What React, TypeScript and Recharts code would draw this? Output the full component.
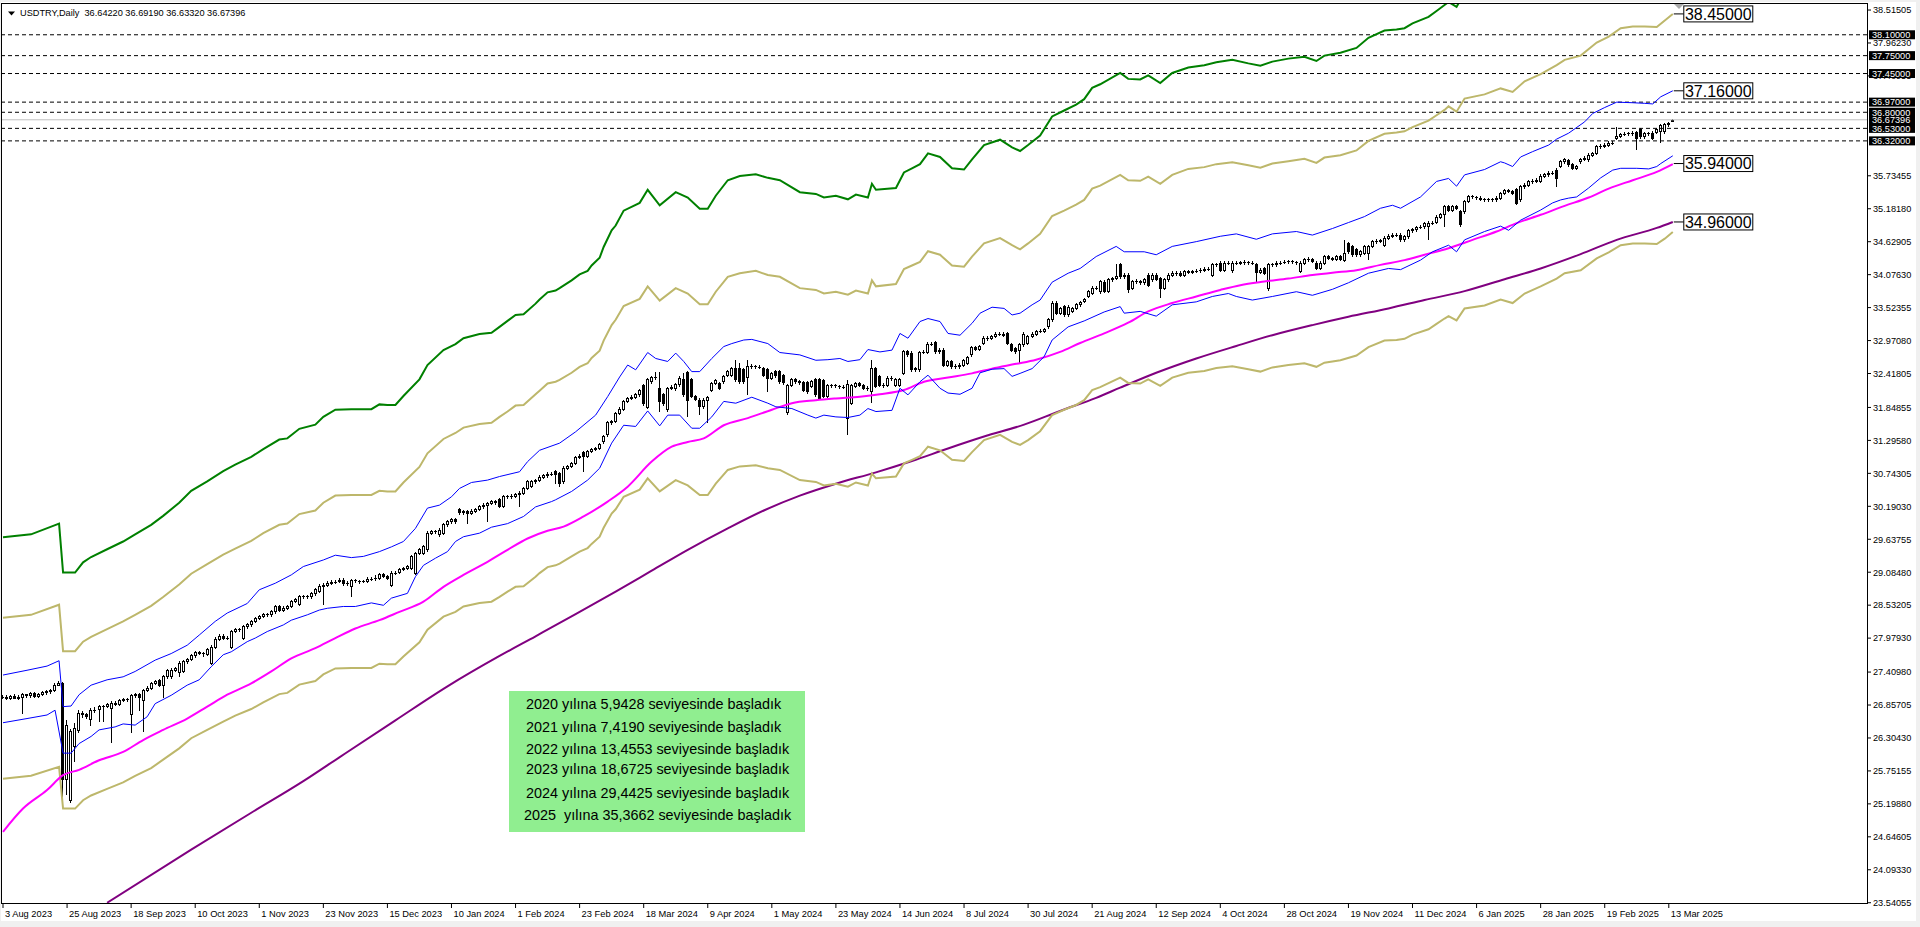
import { ComposedChart, Bar, Line, XAxis, YAxis, ReferenceLine, ReferenceDot } from 'recharts';

// USDTRY daily candles, 3 Aug 2023 .. 14 Mar 2025 (bar index 0..417)
const opens = [
  26.98, 26.99, 26.97, 27.00, 26.97, 26.99, 27.03, 27.01, 27.05, 27.00,
  27.03, 27.06, 27.08, 27.10, 27.19, 27.22, 25.60, 25.26, 26.16, 26.43,
  26.72, 26.69, 26.62, 26.77, 26.78, 26.83, 26.83, 26.80, 26.89, 26.87,
  26.93, 26.95, 26.70, 27.01, 27.03, 26.94, 27.10, 27.14, 27.22, 27.27,
  27.19, 27.33, 27.33, 27.44, 27.40, 27.42, 27.58, 27.62, 27.68, 27.74,
  27.72, 27.71, 27.55, 27.83, 27.96, 28.01, 27.98, 27.83, 28.09, 28.12,
  27.98, 28.17, 28.20, 28.26, 28.31, 28.34, 28.37, 28.37, 28.42, 28.51,
  28.45, 28.48, 28.51, 28.59, 28.55, 28.68, 28.67, 28.67, 28.72, 28.76,
  28.85, 28.87, 28.90, 28.92, 28.93, 28.95, 28.89, 28.84, 28.94, 28.93,
  28.93, 28.93, 28.97, 28.98, 28.98, 29.04, 29.01, 28.87, 29.07, 29.08,
  29.13, 29.15, 29.15, 29.07, 29.40, 29.40, 29.46, 29.74, 29.76, 29.71,
  29.74, 29.88, 29.93, 29.97, 30.14, 30.08, 30.10, 30.07, 30.11, 30.14,
  30.18, 30.21, 30.24, 30.27, 30.30, 30.19, 30.35, 30.35, 30.36, 30.38,
  30.41, 30.49, 30.52, 30.60, 30.62, 30.68, 30.70, 30.73, 30.77, 30.74,
  30.60, 30.83, 30.86, 30.91, 31.01, 31.10, 31.03, 31.11, 31.14, 31.16,
  31.27, 31.39, 31.59, 31.61, 31.75, 31.82, 31.95, 32.00, 32.02, 32.06,
  32.22, 31.85, 32.28, 32.35, 32.17, 32.06, 31.81, 32.17, 32.16, 32.23,
  32.31, 32.43, 32.31, 32.03, 31.97, 31.86, 31.97, 32.13, 32.25, 32.25,
  32.28, 32.39, 32.39, 32.50, 32.50, 32.48, 32.35, 32.53, 32.53, 32.52,
  32.50, 32.48, 32.34, 32.45, 32.45, 32.38, 31.76, 32.22, 32.31, 32.28,
  32.27, 32.26, 32.20, 32.31, 32.31, 32.30, 32.03, 32.21, 32.21, 32.20,
  32.19, 31.67, 31.92, 32.20, 32.25, 32.22, 32.17, 32.11, 32.50, 32.36,
  32.22, 32.22, 32.34, 32.22, 32.22, 32.42, 32.78, 32.76, 32.48, 32.48,
  32.77, 32.77, 32.91, 32.93, 32.78, 32.81, 32.56, 32.62, 32.53, 32.53,
  32.56, 32.59, 32.73, 32.85, 32.82, 32.92, 33.01, 33.01, 33.04, 33.08,
  33.08, 33.09, 32.90, 32.84, 32.81, 32.90, 32.92, 33.04, 33.08, 33.12,
  33.13, 33.20, 33.32, 33.60, 33.43, 33.54, 33.40, 33.46, 33.51, 33.57,
  33.63, 33.71, 33.76, 33.85, 33.79, 33.95, 33.80, 33.99, 34.01, 34.24,
  34.04, 34.07, 33.85, 33.96, 33.96, 33.94, 34.07, 33.99, 34.07, 34.01,
  33.85, 33.99, 34.07, 34.10, 34.10, 34.07, 34.13, 34.11, 34.13, 34.14,
  34.15, 34.17, 34.07, 34.24, 34.27, 34.15, 34.27, 34.14, 34.27, 34.26,
  34.28, 34.28, 34.27, 34.24, 34.11, 34.18, 33.85, 34.24, 34.24, 34.27,
  34.28, 34.29, 34.29, 34.28, 34.13, 34.27, 34.33, 34.33, 34.27, 34.18,
  34.27, 34.38, 34.35, 34.33, 34.38, 34.32, 34.60, 34.55, 34.49, 34.41,
  34.43, 34.43, 34.55, 34.63, 34.63, 34.57, 34.69, 34.72, 34.74, 34.74,
  34.66, 34.71, 34.81, 34.83, 34.87, 34.88, 34.88, 34.94, 34.95, 35.04,
  35.08, 35.22, 35.16, 35.22, 35.13, 35.13, 35.30, 35.38, 35.37, 35.36,
  35.34, 35.33, 35.34, 35.33, 35.36, 35.44, 35.49, 35.47, 35.50, 35.33,
  35.55, 35.58, 35.64, 35.64, 35.64, 35.73, 35.75, 35.78, 35.83, 35.89,
  35.97, 35.99, 35.92, 35.86, 35.97, 36.01, 36.00, 36.08, 36.11, 36.22,
  36.23, 36.25, 36.28, 36.36, 36.40, 36.43, 36.44, 36.44, 36.46, 36.51,
  36.39, 36.44, 36.45, 36.46, 36.47, 36.47, 36.59, 36.64,
];

const highs = [
  27.02, 27.02, 27.03, 27.04, 27.02, 27.06, 27.05, 27.08, 27.07, 27.06,
  27.09, 27.11, 27.13, 27.22, 27.26, 27.25, 26.60, 26.45, 26.55, 26.78,
  26.75, 26.72, 26.80, 26.82, 26.86, 26.86, 26.89, 26.92, 26.92, 26.96,
  26.98, 26.98, 27.04, 27.06, 27.06, 27.13, 27.17, 27.25, 27.28, 27.30,
  27.36, 27.46, 27.47, 27.50, 27.59, 27.61, 27.65, 27.71, 27.77, 27.77,
  27.75, 27.81, 27.86, 27.99, 28.04, 28.04, 28.01, 28.12, 28.15, 28.15,
  28.20, 28.23, 28.29, 28.34, 28.37, 28.40, 28.40, 28.45, 28.54, 28.54,
  28.51, 28.54, 28.62, 28.65, 28.71, 28.71, 28.70, 28.75, 28.82, 28.88,
  28.90, 28.93, 28.95, 28.96, 28.98, 28.98, 28.93, 28.97, 28.97, 28.96,
  28.96, 29.00, 29.01, 29.04, 29.07, 29.07, 29.04, 29.10, 29.11, 29.16,
  29.18, 29.21, 29.38, 29.43, 29.49, 29.54, 29.77, 29.79, 29.80, 29.82,
  29.91, 29.96, 30.00, 30.00, 30.17, 30.13, 30.13, 30.14, 30.17, 30.21,
  30.24, 30.27, 30.30, 30.30, 30.33, 30.38, 30.38, 30.39, 30.41, 30.44,
  30.52, 30.63, 30.63, 30.65, 30.71, 30.73, 30.76, 30.77, 30.80, 30.77,
  30.86, 30.89, 30.94, 31.04, 31.06, 31.12, 31.14, 31.17, 31.19, 31.25,
  31.39, 31.62, 31.64, 31.78, 31.85, 31.98, 32.03, 32.05, 32.09, 32.16,
  32.25, 32.34, 32.38, 32.45, 32.45, 32.09, 32.20, 32.22, 32.26, 32.37,
  32.43, 32.46, 32.34, 32.06, 32.00, 32.00, 32.04, 32.28, 32.33, 32.28,
  32.40, 32.48, 32.53, 32.65, 32.60, 32.51, 32.64, 32.57, 32.56, 32.56,
  32.53, 32.51, 32.45, 32.48, 32.48, 32.41, 32.25, 32.34, 32.34, 32.31,
  32.30, 32.29, 32.31, 32.34, 32.34, 32.33, 32.24, 32.25, 32.24, 32.23,
  32.23, 32.31, 32.24, 32.28, 32.28, 32.25, 32.21, 32.64, 32.53, 32.39,
  32.26, 32.37, 32.38, 32.35, 32.34, 32.81, 32.81, 32.79, 32.53, 32.80,
  32.81, 32.94, 32.95, 32.96, 32.84, 32.84, 32.65, 32.65, 32.57, 32.59,
  32.66, 32.72, 32.88, 32.88, 32.90, 33.04, 33.05, 33.07, 33.11, 33.12,
  33.11, 33.12, 32.93, 32.87, 32.93, 33.11, 33.07, 33.11, 33.15, 33.16,
  33.18, 33.35, 33.63, 33.63, 33.54, 33.57, 33.56, 33.54, 33.60, 33.64,
  33.69, 33.82, 33.88, 33.89, 33.99, 33.98, 34.02, 34.04, 34.25, 34.27,
  34.10, 34.10, 33.99, 34.00, 33.99, 34.02, 34.10, 34.10, 34.10, 34.04,
  34.02, 34.10, 34.13, 34.14, 34.13, 34.16, 34.16, 34.16, 34.17, 34.18,
  34.20, 34.21, 34.27, 34.28, 34.30, 34.30, 34.31, 34.30, 34.30, 34.31,
  34.32, 34.31, 34.30, 34.27, 34.18, 34.21, 34.27, 34.28, 34.30, 34.31,
  34.32, 34.33, 34.32, 34.31, 34.30, 34.36, 34.37, 34.36, 34.30, 34.30,
  34.41, 34.41, 34.38, 34.41, 34.41, 34.66, 34.63, 34.58, 34.52, 34.49,
  34.58, 34.58, 34.66, 34.67, 34.68, 34.72, 34.75, 34.77, 34.78, 34.77,
  34.74, 34.84, 34.86, 34.90, 34.91, 34.96, 34.97, 34.98, 35.07, 35.11,
  35.25, 35.25, 35.25, 35.25, 35.16, 35.33, 35.41, 35.41, 35.40, 35.39,
  35.37, 35.37, 35.37, 35.39, 35.47, 35.52, 35.52, 35.50, 35.53, 35.58,
  35.61, 35.67, 35.68, 35.69, 35.76, 35.78, 35.81, 35.82, 35.86, 36.00,
  36.03, 36.02, 35.95, 35.92, 36.04, 36.06, 36.11, 36.14, 36.25, 36.26,
  36.28, 36.31, 36.32, 36.55, 36.46, 36.47, 36.47, 36.48, 36.49, 36.54,
  36.47, 36.47, 36.48, 36.54, 36.60, 36.62, 36.64, 36.69,
];

const lows = [
  26.95, 26.94, 26.94, 26.95, 26.94, 26.71, 26.98, 26.98, 26.97, 26.98,
  27.00, 27.03, 27.05, 27.08, 27.17, 25.29, 25.35, 25.22, 25.90, 26.38,
  26.64, 26.62, 26.50, 26.73, 26.58, 26.58, 26.80, 26.22, 26.84, 26.84,
  26.90, 26.91, 26.38, 26.98, 26.75, 26.41, 27.07, 27.11, 27.19, 27.16,
  26.97, 27.30, 27.30, 27.41, 27.33, 27.39, 27.55, 27.59, 27.65, 27.69,
  27.66, 27.68, 27.52, 27.80, 27.93, 27.95, 27.94, 27.80, 28.06, 28.08,
  27.95, 28.14, 28.17, 28.23, 28.28, 28.31, 28.33, 28.34, 28.39, 28.42,
  28.42, 28.45, 28.48, 28.56, 28.52, 28.64, 28.63, 28.64, 28.69, 28.73,
  28.53, 28.84, 28.87, 28.89, 28.90, 28.86, 28.86, 28.67, 28.90, 28.89,
  28.90, 28.90, 28.94, 28.93, 28.95, 28.98, 28.95, 28.84, 29.04, 29.05,
  29.10, 29.12, 29.12, 29.04, 29.37, 29.37, 29.43, 29.71, 29.72, 29.68,
  29.71, 29.85, 29.90, 29.90, 30.05, 30.05, 29.90, 30.04, 30.08, 30.11,
  30.15, 29.93, 30.21, 30.22, 30.16, 30.16, 30.32, 30.32, 30.33, 30.18,
  30.38, 30.46, 30.49, 30.57, 30.59, 30.65, 30.67, 30.70, 30.57, 30.52,
  30.57, 30.80, 30.83, 30.88, 30.98, 30.77, 31.00, 31.08, 31.11, 31.13,
  31.24, 31.36, 31.56, 31.58, 31.72, 31.79, 31.92, 31.97, 31.99, 32.03,
  31.88, 31.82, 32.25, 32.31, 31.78, 31.88, 31.78, 32.14, 32.13, 32.20,
  32.03, 31.69, 32.00, 31.96, 31.72, 31.83, 31.59, 32.10, 32.22, 32.14,
  32.25, 32.36, 32.36, 32.28, 32.25, 32.25, 32.06, 32.49, 32.49, 32.49,
  32.36, 32.11, 32.31, 32.35, 32.25, 32.23, 31.73, 32.19, 32.25, 32.23,
  32.10, 32.08, 32.17, 32.03, 31.97, 32.00, 32.00, 32.17, 32.17, 32.16,
  32.16, 31.39, 31.89, 32.17, 32.19, 32.14, 32.13, 31.93, 32.17, 32.19,
  32.18, 32.19, 32.30, 32.19, 32.19, 32.39, 32.70, 32.45, 32.45, 32.45,
  32.74, 32.74, 32.88, 32.75, 32.75, 32.53, 32.53, 32.50, 32.49, 32.50,
  32.53, 32.56, 32.70, 32.79, 32.79, 32.89, 32.97, 32.98, 33.01, 33.04,
  33.03, 32.89, 32.78, 32.75, 32.60, 32.87, 32.89, 33.01, 33.05, 33.09,
  33.10, 33.17, 33.29, 33.40, 33.40, 33.37, 33.37, 33.43, 33.48, 33.54,
  33.60, 33.68, 33.73, 33.82, 33.76, 33.77, 33.77, 33.96, 33.98, 34.01,
  34.01, 33.77, 33.82, 33.92, 33.91, 33.91, 33.87, 33.96, 33.97, 33.68,
  33.82, 33.96, 34.04, 34.06, 34.04, 34.04, 34.08, 34.08, 34.10, 34.11,
  34.12, 34.14, 34.04, 34.20, 34.12, 34.12, 34.23, 34.11, 34.23, 34.23,
  34.24, 34.24, 34.23, 33.96, 34.08, 34.07, 33.80, 34.20, 34.21, 34.24,
  34.25, 34.25, 34.25, 34.24, 34.10, 34.24, 34.29, 34.27, 34.15, 34.15,
  34.24, 34.32, 34.30, 34.30, 34.30, 34.29, 34.43, 34.38, 34.38, 34.38,
  34.40, 34.32, 34.52, 34.59, 34.60, 34.54, 34.66, 34.69, 34.70, 34.63,
  34.63, 34.68, 34.78, 34.80, 34.84, 34.85, 34.66, 34.91, 34.92, 35.01,
  34.87, 35.13, 35.13, 35.16, 34.88, 35.10, 35.27, 35.34, 35.33, 35.31,
  35.30, 35.30, 35.30, 35.30, 35.33, 35.41, 35.44, 35.41, 35.24, 35.30,
  35.52, 35.55, 35.60, 35.61, 35.61, 35.70, 35.72, 35.75, 35.55, 35.86,
  35.94, 35.89, 35.83, 35.83, 35.94, 35.98, 35.97, 36.05, 36.08, 36.19,
  36.20, 36.22, 36.25, 36.33, 36.37, 36.40, 36.41, 36.41, 36.16, 36.36,
  36.36, 36.40, 36.33, 36.43, 36.28, 36.44, 36.56, 36.63,
];

const closes = [
  26.99, 26.97, 27.00, 26.97, 26.99, 27.03, 27.01, 27.05, 27.00, 27.03,
  27.06, 27.08, 27.10, 27.19, 27.22, 25.60, 26.52, 26.41, 26.46, 26.72,
  26.69, 26.66, 26.77, 26.78, 26.83, 26.83, 26.86, 26.89, 26.87, 26.93,
  26.95, 26.94, 27.01, 27.03, 26.99, 27.10, 27.14, 27.22, 27.25, 27.19,
  27.33, 27.43, 27.44, 27.47, 27.56, 27.58, 27.62, 27.68, 27.74, 27.72,
  27.71, 27.78, 27.83, 27.96, 28.01, 27.98, 27.98, 28.09, 28.12, 28.12,
  28.17, 28.20, 28.26, 28.31, 28.34, 28.37, 28.37, 28.42, 28.51, 28.45,
  28.48, 28.51, 28.59, 28.62, 28.68, 28.67, 28.67, 28.72, 28.79, 28.85,
  28.87, 28.90, 28.92, 28.93, 28.95, 28.89, 28.90, 28.94, 28.93, 28.93,
  28.93, 28.97, 28.98, 28.98, 29.04, 29.01, 28.98, 29.07, 29.08, 29.13,
  29.15, 29.18, 29.35, 29.40, 29.46, 29.51, 29.74, 29.76, 29.76, 29.79,
  29.88, 29.93, 29.97, 29.93, 30.08, 30.10, 30.07, 30.11, 30.14, 30.18,
  30.21, 30.24, 30.27, 30.25, 30.19, 30.35, 30.35, 30.36, 30.38, 30.41,
  30.49, 30.60, 30.60, 30.62, 30.68, 30.70, 30.73, 30.74, 30.73, 30.58,
  30.83, 30.86, 30.91, 31.01, 31.03, 31.03, 31.11, 31.14, 31.16, 31.22,
  31.36, 31.59, 31.61, 31.75, 31.82, 31.95, 32.00, 32.02, 32.06, 32.13,
  31.91, 32.31, 32.35, 32.35, 31.95, 31.92, 32.17, 32.19, 32.23, 32.34,
  32.06, 31.97, 32.03, 31.99, 31.86, 31.97, 32.01, 32.25, 32.30, 32.17,
  32.37, 32.45, 32.50, 32.31, 32.28, 32.28, 32.53, 32.53, 32.52, 32.53,
  32.39, 32.34, 32.42, 32.38, 32.28, 32.26, 32.22, 32.31, 32.28, 32.26,
  32.13, 32.11, 32.28, 32.06, 32.00, 32.03, 32.21, 32.21, 32.20, 32.19,
  32.20, 32.23, 32.21, 32.25, 32.22, 32.17, 32.17, 32.50, 32.20, 32.22,
  32.22, 32.34, 32.34, 32.32, 32.31, 32.78, 32.73, 32.48, 32.50, 32.77,
  32.78, 32.91, 32.92, 32.78, 32.81, 32.56, 32.62, 32.53, 32.53, 32.56,
  32.63, 32.69, 32.85, 32.82, 32.87, 33.01, 33.01, 33.04, 33.08, 33.08,
  33.06, 32.92, 32.81, 32.78, 32.90, 33.08, 33.04, 33.08, 33.12, 33.13,
  33.15, 33.32, 33.60, 33.43, 33.51, 33.40, 33.53, 33.51, 33.57, 33.61,
  33.66, 33.79, 33.85, 33.86, 33.96, 33.80, 33.99, 34.01, 34.04, 34.04,
  34.07, 33.82, 33.96, 33.96, 33.94, 33.99, 33.90, 34.07, 34.00, 33.85,
  33.99, 34.07, 34.10, 34.10, 34.07, 34.13, 34.11, 34.13, 34.14, 34.15,
  34.17, 34.18, 34.24, 34.24, 34.15, 34.27, 34.27, 34.27, 34.26, 34.28,
  34.28, 34.27, 34.26, 34.11, 34.15, 34.10, 34.24, 34.24, 34.27, 34.28,
  34.29, 34.29, 34.28, 34.27, 34.27, 34.33, 34.33, 34.30, 34.18, 34.27,
  34.38, 34.35, 34.33, 34.38, 34.33, 34.43, 34.46, 34.41, 34.41, 34.46,
  34.55, 34.55, 34.63, 34.63, 34.65, 34.69, 34.72, 34.74, 34.74, 34.66,
  34.71, 34.81, 34.83, 34.87, 34.88, 34.93, 34.94, 34.95, 35.04, 35.08,
  35.22, 35.16, 35.22, 35.19, 34.91, 35.30, 35.38, 35.37, 35.36, 35.34,
  35.33, 35.34, 35.33, 35.36, 35.44, 35.49, 35.47, 35.44, 35.27, 35.55,
  35.58, 35.64, 35.64, 35.66, 35.73, 35.75, 35.78, 35.79, 35.69, 35.97,
  36.00, 35.92, 35.86, 35.89, 36.01, 36.03, 36.08, 36.11, 36.22, 36.23,
  36.25, 36.28, 36.29, 36.40, 36.43, 36.44, 36.44, 36.45, 36.36, 36.39,
  36.44, 36.43, 36.36, 36.51, 36.57, 36.59, 36.61, 36.67,
];

// indicator lines, read as [bar index, price]
const envUpper10: [number, number][] = [
  [0, 29.67], [7, 29.72], [14, 29.9], [15, 29.08], [18, 29.08], [20, 29.25], [22, 29.34], [26, 29.47], [30, 29.6], [33, 29.72],
  [37, 29.88], [40, 30.03], [44, 30.25], [47, 30.45], [51, 30.61], [55, 30.78], [58, 30.89], [62, 31.02], [65, 31.15], [69, 31.31],
  [71, 31.33], [74, 31.49], [78, 31.56], [80, 31.69], [83, 31.81], [87, 31.82], [92, 31.82], [94, 31.9], [96, 31.89], [98, 31.89],
  [100, 32.04], [104, 32.32], [106, 32.56], [110, 32.81], [113, 32.91], [115, 33.01], [119, 33.08], [122, 33.1], [124, 33.2], [126, 33.3],
  [128, 33.4], [130, 33.41], [133, 33.59], [134, 33.66], [136, 33.78], [138, 33.81], [139, 33.85], [142, 33.98], [144, 34.08], [146, 34.14],
  [147, 34.23], [149, 34.36], [150, 34.54], [152, 34.82], [153, 34.9], [155, 35.15], [159, 35.28], [161, 35.5], [164, 35.24], [168, 35.46],
  [171, 35.37], [174, 35.18], [176, 35.18], [178, 35.4], [181, 35.66], [184, 35.73], [188, 35.76], [191, 35.7], [194, 35.66], [199, 35.46],
  [203, 35.43], [205, 35.37], [208, 35.4], [211, 35.34], [213, 35.42], [216, 35.37], [217, 35.6], [218, 35.5], [223, 35.53], [225, 35.79],
  [227, 35.86], [229, 35.93], [231, 36.11], [234, 36.05], [237, 35.86], [240, 35.84], [242, 36.01], [245, 36.25], [249, 36.34], [252, 36.21],
  [254, 36.15], [256, 36.25], [259, 36.41], [262, 36.73], [265, 36.83], [268, 36.93], [270, 37.02], [272, 37.21], [274, 37.27], [279, 37.46],
  [281, 37.36], [284, 37.35], [286, 37.42], [289, 37.29], [292, 37.46], [296, 37.55], [300, 37.59], [303, 37.64], [307, 37.68], [311, 37.62],
  [314, 37.58], [317, 37.65], [321, 37.7], [325, 37.73], [328, 37.66], [330, 37.75], [334, 37.8], [338, 37.88], [341, 38.05], [345, 38.17],
  [348, 38.19], [350, 38.21], [352, 38.29], [356, 38.4], [358, 38.5], [360, 38.6], [361, 38.65], [363, 38.57], [365, 38.8], [370, 38.86],
  [374, 38.97],
];

const envUpper5: [number, number][] = [
  [0, 28.32], [7, 28.37], [14, 28.54], [15, 27.76], [18, 27.76], [20, 27.92], [22, 28.0], [26, 28.13], [30, 28.26], [33, 28.37],
  [37, 28.52], [40, 28.67], [44, 28.88], [47, 29.06], [51, 29.22], [55, 29.38], [58, 29.48], [62, 29.61], [65, 29.74], [69, 29.88],
  [71, 29.9], [74, 30.06], [78, 30.12], [80, 30.25], [83, 30.37], [87, 30.38], [92, 30.38], [94, 30.45], [96, 30.44], [98, 30.44],
  [100, 30.59], [104, 30.85], [106, 31.08], [110, 31.32], [113, 31.42], [115, 31.51], [119, 31.57], [122, 31.59], [124, 31.69], [126, 31.78],
  [128, 31.88], [130, 31.89], [133, 32.07], [134, 32.13], [136, 32.25], [138, 32.28], [139, 32.31], [142, 32.43], [144, 32.53], [146, 32.59],
  [147, 32.68], [149, 32.8], [150, 32.97], [152, 33.23], [153, 33.32], [155, 33.55], [159, 33.67], [161, 33.88], [164, 33.64], [168, 33.85],
  [171, 33.76], [174, 33.58], [176, 33.58], [178, 33.79], [181, 34.04], [184, 34.1], [188, 34.14], [191, 34.07], [194, 34.04], [199, 33.85],
  [203, 33.82], [205, 33.76], [208, 33.79], [211, 33.74], [213, 33.81], [216, 33.76], [217, 33.98], [218, 33.88], [223, 33.92], [225, 34.17],
  [227, 34.23], [229, 34.29], [231, 34.47], [234, 34.41], [237, 34.23], [240, 34.21], [242, 34.38], [245, 34.6], [249, 34.69], [252, 34.57],
  [254, 34.5], [256, 34.6], [259, 34.76], [262, 35.06], [265, 35.15], [268, 35.25], [270, 35.33], [272, 35.52], [274, 35.57], [279, 35.75],
  [281, 35.66], [284, 35.65], [286, 35.72], [289, 35.6], [292, 35.75], [296, 35.85], [300, 35.88], [303, 35.93], [307, 35.96], [311, 35.91],
  [314, 35.87], [317, 35.94], [321, 35.98], [325, 36.02], [328, 35.95], [330, 36.04], [334, 36.08], [338, 36.16], [341, 36.32], [345, 36.44],
  [348, 36.46], [350, 36.48], [352, 36.55], [356, 36.66], [358, 36.75], [360, 36.84], [361, 36.9], [363, 36.81], [365, 37.03], [370, 37.1],
  [374, 37.2], [377, 37.14], [380, 37.32], [384, 37.44], [388, 37.59], [390, 37.68], [394, 37.75], [398, 37.97], [401, 38.07], [404, 38.21],
  [407, 38.24], [410, 38.24], [413, 38.23], [415, 38.34], [417, 38.45],
];

const envLower5: [number, number][] = [
  [0, 25.62], [7, 25.67], [14, 25.82], [15, 25.12], [18, 25.12], [20, 25.26], [22, 25.34], [26, 25.45], [30, 25.56], [33, 25.67],
  [37, 25.8], [40, 25.94], [44, 26.13], [47, 26.3], [51, 26.44], [55, 26.58], [58, 26.68], [62, 26.79], [65, 26.9], [69, 27.04],
  [71, 27.06], [74, 27.2], [78, 27.26], [80, 27.37], [83, 27.47], [87, 27.48], [92, 27.48], [94, 27.55], [96, 27.54], [98, 27.54],
  [100, 27.67], [104, 27.91], [106, 28.12], [110, 28.34], [113, 28.42], [115, 28.51], [119, 28.57], [122, 28.59], [124, 28.67], [126, 28.76],
  [128, 28.84], [130, 28.85], [133, 29.01], [134, 29.07], [136, 29.17], [138, 29.2], [139, 29.23], [142, 29.35], [144, 29.43], [146, 29.49],
  [147, 29.56], [149, 29.68], [150, 29.83], [152, 30.07], [153, 30.14], [155, 30.35], [159, 30.47], [161, 30.66], [164, 30.44], [168, 30.63],
  [171, 30.54], [174, 30.38], [176, 30.38], [178, 30.57], [181, 30.8], [184, 30.86], [188, 30.88], [191, 30.83], [194, 30.8], [199, 30.63],
  [203, 30.6], [205, 30.54], [208, 30.57], [211, 30.52], [213, 30.59], [216, 30.54], [217, 30.74], [218, 30.66], [223, 30.69], [225, 30.91],
  [227, 30.97], [229, 31.03], [231, 31.19], [234, 31.13], [237, 30.97], [240, 30.95], [242, 31.1], [245, 31.3], [249, 31.39], [252, 31.27],
  [254, 31.22], [256, 31.3], [259, 31.45], [262, 31.72], [265, 31.81], [268, 31.89], [270, 31.97], [272, 32.14], [274, 32.19], [279, 32.35],
  [281, 32.26], [284, 32.25], [286, 32.32], [289, 32.21], [292, 32.35], [296, 32.43], [300, 32.46], [303, 32.51], [307, 32.54], [311, 32.49],
  [314, 32.45], [317, 32.52], [321, 32.56], [325, 32.59], [328, 32.53], [330, 32.6], [334, 32.64], [338, 32.72], [341, 32.86], [345, 32.97],
  [348, 32.98], [350, 33.0], [352, 33.07], [356, 33.16], [358, 33.25], [360, 33.34], [361, 33.38], [363, 33.31], [365, 33.51], [370, 33.56],
  [374, 33.66], [377, 33.6], [380, 33.76], [384, 33.88], [388, 34.01], [390, 34.1], [394, 34.15], [398, 34.35], [401, 34.45], [404, 34.57],
  [407, 34.6], [410, 34.6], [413, 34.59], [415, 34.68], [417, 34.79],
];

const bandUpper: [number, number][] = [
  [0, 27.36], [6, 27.44], [11, 27.51], [14, 27.6], [15, 26.83], [17, 26.84], [19, 27.03], [22, 27.19], [26, 27.28], [30, 27.33],
  [33, 27.42], [38, 27.61], [42, 27.72], [46, 27.86], [49, 28.03], [53, 28.26], [56, 28.4], [61, 28.56], [64, 28.79], [68, 28.9],
  [72, 29.04], [75, 29.18], [80, 29.29], [83, 29.37], [87, 29.33], [90, 29.35], [94, 29.43], [97, 29.51], [100, 29.6], [103, 29.82],
  [106, 30.16], [109, 30.21], [112, 30.35], [114, 30.49], [117, 30.59], [121, 30.63], [124, 30.69], [129, 30.77], [131, 30.94], [134, 31.13],
  [139, 31.25], [143, 31.44], [148, 31.72], [151, 32.03], [154, 32.36], [156, 32.56], [158, 32.48], [161, 32.77], [163, 32.67], [166, 32.62],
  [168, 32.76], [170, 32.62], [172, 32.45], [174, 32.45], [177, 32.67], [180, 32.87], [182, 32.92], [185, 32.98], [187, 32.99], [191, 32.92],
  [194, 32.77], [199, 32.73], [203, 32.64], [206, 32.65], [209, 32.67], [211, 32.62], [214, 32.65], [216, 32.82], [219, 32.78], [222, 32.81],
  [224, 33.09], [226, 33.01], [229, 33.29], [231, 33.34], [234, 33.29], [236, 33.09], [239, 33.06], [242, 33.26], [244, 33.43], [247, 33.53],
  [250, 33.51], [252, 33.4], [254, 33.43], [257, 33.57], [259, 33.65], [262, 33.95], [266, 34.1], [269, 34.18], [273, 34.38], [278, 34.55],
  [280, 34.46], [285, 34.46], [288, 34.41], [292, 34.55], [298, 34.63], [304, 34.72], [308, 34.76], [313, 34.67], [317, 34.76], [323, 34.8],
  [327, 34.74], [332, 34.85], [336, 34.95], [340, 35.05], [344, 35.19], [347, 35.24], [349, 35.19], [354, 35.38], [358, 35.64], [361, 35.69],
  [363, 35.56], [365, 35.75], [370, 35.84], [374, 35.97], [375, 35.95], [377, 35.89], [379, 36.05], [382, 36.14], [386, 36.25], [388, 36.35],
  [391, 36.45], [395, 36.64], [397, 36.78], [400, 36.88], [403, 36.97], [407, 36.96], [410, 36.95], [412, 36.94], [414, 37.06], [417, 37.16],
];

const bandLower: [number, number][] = [
  [0, 26.56], [6, 26.63], [11, 26.69], [13, 26.77], [15, 26.05], [17, 26.05], [19, 26.21], [22, 26.33], [24, 26.44], [28, 26.49],
  [30, 26.54], [33, 26.52], [36, 26.66], [38, 26.88], [42, 27.02], [46, 27.19], [49, 27.28], [52, 27.5], [55, 27.7], [57, 27.75],
  [61, 27.92], [63, 27.98], [66, 28.09], [70, 28.2], [72, 28.28], [76, 28.37], [79, 28.45], [81, 28.48], [85, 28.51], [88, 28.51],
  [92, 28.57], [95, 28.53], [97, 28.65], [101, 28.73], [103, 29.01], [105, 29.2], [108, 29.32], [111, 29.43], [113, 29.6], [115, 29.68],
  [119, 29.74], [122, 29.84], [126, 29.9], [130, 30.02], [133, 30.18], [137, 30.27], [138, 30.3], [142, 30.44], [146, 30.63], [149, 30.83],
  [152, 31.25], [155, 31.55], [158, 31.53], [161, 31.79], [164, 31.54], [166, 31.72], [169, 31.72], [172, 31.5], [174, 31.5], [177, 31.69],
  [180, 31.95], [183, 31.92], [187, 32.02], [191, 31.92], [193, 31.86], [197, 31.83], [201, 31.72], [203, 31.67], [205, 31.72], [208, 31.69],
  [211, 31.68], [214, 31.72], [216, 31.83], [218, 31.78], [222, 31.8], [224, 32.17], [226, 32.06], [229, 32.28], [231, 32.39], [234, 32.17],
  [236, 32.09], [239, 32.07], [242, 32.17], [244, 32.43], [247, 32.49], [250, 32.5], [252, 32.37], [254, 32.42], [257, 32.5], [260, 32.7],
  [262, 32.98], [266, 33.2], [270, 33.3], [275, 33.45], [279, 33.54], [280, 33.43], [284, 33.46], [288, 33.38], [292, 33.57], [298, 33.62],
  [302, 33.71], [306, 33.76], [308, 33.71], [312, 33.65], [317, 33.71], [323, 33.79], [327, 33.73], [332, 33.83], [336, 33.94], [341, 34.1],
  [346, 34.18], [349, 34.16], [354, 34.32], [357, 34.46], [361, 34.57], [363, 34.46], [365, 34.66], [370, 34.8], [374, 34.89], [376, 34.82],
  [379, 34.99], [384, 35.16], [387, 35.28], [389, 35.33], [391, 35.36], [393, 35.38], [396, 35.53], [399, 35.7], [402, 35.83], [404, 35.86],
  [408, 35.86], [411, 35.85], [413, 35.89], [414, 35.94], [417, 36.07],
];

const maFast: [number, number][] = [
  [0, 24.73], [5, 25.12], [11, 25.43], [15, 25.68], [19, 25.77], [24, 25.93], [30, 26.07], [35, 26.27], [40, 26.44], [46, 26.63],
  [51, 26.83], [56, 27.03], [62, 27.22], [67, 27.42], [72, 27.64], [78, 27.81], [83, 27.98], [88, 28.14], [94, 28.28], [99, 28.42],
  [105, 28.59], [110, 28.84], [115, 29.04], [121, 29.26], [126, 29.46], [131, 29.65], [136, 29.78], [140, 29.85], [145, 30.02], [151, 30.27],
  [156, 30.52], [162, 30.94], [167, 31.19], [171, 31.27], [175, 31.33], [180, 31.55], [186, 31.67], [192, 31.81], [197, 31.92], [203, 31.97],
  [208, 32.0], [214, 32.03], [219, 32.07], [225, 32.14], [230, 32.28], [236, 32.35], [242, 32.42], [247, 32.5], [253, 32.58], [258, 32.65],
  [264, 32.78], [269, 32.93], [275, 33.09], [281, 33.27], [286, 33.46], [292, 33.6], [298, 33.71], [304, 33.82], [309, 33.9], [315, 33.96],
  [321, 34.01], [327, 34.07], [332, 34.11], [338, 34.15], [344, 34.24], [350, 34.32], [355, 34.41], [361, 34.52], [367, 34.66], [373, 34.8],
  [378, 34.94], [384, 35.08], [390, 35.23], [396, 35.37], [401, 35.52], [407, 35.66], [413, 35.8], [417, 35.93],
];

const maSlow: [number, number][] = [
  [26, 23.54], [47, 24.43], [62, 25.05], [75, 25.58], [84, 25.98], [98, 26.6], [111, 27.17], [124, 27.68], [133, 28.01], [143, 28.38],
  [153, 28.76], [162, 29.11], [171, 29.46], [181, 29.82], [190, 30.12], [199, 30.37], [208, 30.57], [218, 30.76], [227, 30.95], [236, 31.16],
  [245, 31.36], [255, 31.56], [264, 31.79], [273, 32.01], [279, 32.18], [288, 32.43], [298, 32.67], [308, 32.88], [317, 33.06], [327, 33.23],
  [336, 33.37], [346, 33.51], [355, 33.65], [365, 33.8], [375, 34.0], [384, 34.18], [394, 34.42], [403, 34.66], [413, 34.86], [417, 34.96],
];

const dateLabels = [
  '3 Aug 2023', '25 Aug 2023', '18 Sep 2023', '10 Oct 2023', '1 Nov 2023', '23 Nov 2023', '15 Dec 2023',
  '10 Jan 2024', '1 Feb 2024', '23 Feb 2024', '18 Mar 2024', '9 Apr 2024', '1 May 2024', '23 May 2024',
  '14 Jun 2024', '8 Jul 2024', '30 Jul 2024', '21 Aug 2024', '12 Sep 2024', '4 Oct 2024', '28 Oct 2024',
  '19 Nov 2024', '11 Dec 2024', '6 Jan 2025', '28 Jan 2025', '19 Feb 2025', '13 Mar 2025',
];

const priceTicks = [
  38.51505, 37.9623, 37.40955, 35.73455, 35.1818, 34.62905, 34.0763, 33.52355, 32.9708, 32.41805, 31.84855,
  31.2958, 30.74305, 30.1903, 29.63755, 29.0848, 28.53205, 27.9793, 27.4098, 26.85705, 26.3043,
  25.75155, 25.1988, 24.64605, 24.0933, 23.54055,
];
const bidPrice = 36.67396;
const levelLines = [38.1, 37.75, 37.45, 36.97, 36.8, 36.53, 36.32];
const endTags = [38.45, 37.16, 35.94, 34.96];

const yearNotes = [
  '2020 yılına 5,9428 seviyesinde başladık',
  '2021 yılına 7,4190 seviyesinde başladık',
  '2022 yılına 13,4553 seviyesinde başladık',
  '2023 yılına 18,6725 seviyesinde başladık',
  '2024 yılına 29,4425 seviyesinde başladık',
  '2025  yılına 35,3662 seviyesinde başladık',
];

const SLOTS = 466;
const FONT = "'Liberation Sans', Arial, sans-serif";

const rows: any[] = Array.from({ length: SLOTS }, (_, i) => {
  const r: any = { i };
  if (i < closes.length) {
    r.o = opens[i];
    r.h = highs[i];
    r.l = lows[i];
    r.c = closes[i];
    r.range = [lows[i], highs[i]];
  }
  return r;
});
const addSeries = (key: string, pts: [number, number][]) => {
  pts.forEach(([idx, v]) => {
    rows[idx][key] = v;
  });
};
addSeries('env10', envUpper10);
addSeries('envUp', envUpper5);
addSeries('envLo', envLower5);
addSeries('bbUp', bandUpper);
addSeries('bbLo', bandLower);
addSeries('maFast', maFast);
addSeries('maSlow', maSlow);

const Candle = (props: any) => {
  const { x, y, width, height, payload } = props;
  if (!payload || payload.o == null) return null;
  const { o, h, l, c } = payload;
  const top = Math.min(y, y + height);
  const span = Math.abs(height);
  const toY = (v: number) => (h === l ? top : top + ((h - v) / (h - l)) * span);
  const px = Math.floor(x + width / 2) + 0.5;
  const yo = toY(o);
  const yc = toY(c);
  const bTop = Math.min(yo, yc);
  const bH = Math.abs(yo - yc);
  return (
    <g shapeRendering="crispEdges">
      <line x1={px} x2={px} y1={top} y2={top + span} stroke="#000" strokeWidth={1} />
      {bH < 1 ? (
        <line x1={px - 1.5} x2={px + 1.5} y1={yo} y2={yo} stroke="#000" strokeWidth={1} />
      ) : (
        <rect x={px - 1} y={bTop} width={2} height={bH} fill={c >= o ? '#fff' : '#000'} stroke="#000" strokeWidth={1} />
      )}
    </g>
  );
};

const XTick = (props: any) => {
  const { x, y, payload } = props;
  const i = Number(payload.value);
  if (i % 16 !== 0 || !dateLabels[i / 16]) return null;
  return (
    <g>
      <line x1={x} x2={x} y1={y} y2={y + 5} stroke="#000" />
      <text x={x + 2} y={y + 14} fontSize={9.3} fontFamily={FONT} fill="#000">
        {dateLabels[i / 16]}
      </text>
    </g>
  );
};

const YTick = (props: any) => {
  const { x, y, payload } = props;
  const v = Number(payload.value);
  const boxed = levelLines.includes(v) || v === bidPrice;
  if (boxed) {
    return (
      <g>
        <rect x={x + 2} y={y - 4.5} width={46} height={9} fill="#000" />
        <text x={x + 5} y={y + 3.3} fontSize={9.2} fontFamily={FONT} fill="#fff">
          {v.toFixed(5)}
        </text>
      </g>
    );
  }
  return (
    <g>
      <line x1={x} x2={x + 4} y1={y} y2={y} stroke="#000" />
      <text x={x + 6} y={y + 3.3} fontSize={9.2} fontFamily={FONT} fill="#000">
        {v.toFixed(5)}
      </text>
    </g>
  );
};

const EndTag = (props: any) => {
  const { cx, cy, text } = props;
  if (cx == null || cy == null) return null;
  return (
    <g>
      <line x1={cx + 1} x2={cx + 11} y1={cy} y2={cy} stroke="#000" />
      <rect x={cx + 11} y={cy - 8} width={69} height={16} fill="#fff" stroke="#000" />
      <text x={cx + 45.5} y={cy + 5.8} textAnchor="middle" fontSize={16} fontFamily={FONT} fill="#000">
        {text}
      </text>
    </g>
  );
};

export default function App() {
  const yAxisTicks = [...priceTicks, bidPrice, ...levelLines];
  return (
    <div style={{ position: 'absolute', left: 0, top: 0, width: 1920, height: 927, background: '#f0f0f0', overflow: 'hidden' }}>
      <div style={{ position: 'absolute', left: 1, top: 2, width: 1915, height: 919, background: '#fff' }} />
      <div style={{ position: 'absolute', left: 0, top: 0 }}>
        <ComposedChart width={1920} height={927} data={rows} margin={{ top: 3, right: 0, bottom: 0, left: 1 }}>
          <XAxis
            dataKey="i"
            type="category"
            interval={15}
            height={24}
            axisLine={false}
            tickLine={false}
            tickSize={0}
            tickMargin={0}
            tick={<XTick />}
          />
          <YAxis
            orientation="right"
            type="number"
            domain={[23.536, 38.633]}
            allowDataOverflow
            ticks={yAxisTicks}
            interval={0}
            width={53}
            axisLine={false}
            tickLine={false}
            tickSize={0}
            tickMargin={0}
            tick={<YTick />}
          />
          <ReferenceLine y={bidPrice} stroke="#c0c0c0" strokeWidth={1} />
          {levelLines.map((v) => (
            <ReferenceLine key={v} y={v} stroke="#000" strokeWidth={1} strokeDasharray="4 3" />
          ))}
          <Line type="monotone" dataKey="maSlow" stroke="#800080" strokeWidth={2} dot={false} connectNulls isAnimationActive={false} />
          <Line type="linear" dataKey="env10" stroke="#008000" strokeWidth={2} dot={false} connectNulls isAnimationActive={false} />
          <Line type="linear" dataKey="envUp" stroke="#bdb76b" strokeWidth={2} dot={false} connectNulls isAnimationActive={false} />
          <Line type="linear" dataKey="envLo" stroke="#bdb76b" strokeWidth={2} dot={false} connectNulls isAnimationActive={false} />
          <Line type="monotone" dataKey="maFast" stroke="#ff00ff" strokeWidth={2} dot={false} connectNulls isAnimationActive={false} />
          <Line type="linear" dataKey="bbUp" stroke="#0000ff" strokeWidth={1} dot={false} connectNulls isAnimationActive={false} />
          <Line type="linear" dataKey="bbLo" stroke="#0000ff" strokeWidth={1} dot={false} connectNulls isAnimationActive={false} />
          <Bar dataKey="range" shape={(p: any) => <Candle {...p} />} isAnimationActive={false} />
          {endTags.map((v) => (
            <ReferenceDot
              key={v}
              x={closes.length - 1}
              y={v}
              r={0}
              shape={(p: any) => <EndTag {...p} text={v.toFixed(5)} />}
            />
          ))}
        </ComposedChart>
      </div>
      <div
        style={{
          position: 'absolute', left: 1, top: 3, width: 1867, height: 901,
          border: '1px solid #000', boxSizing: 'border-box', pointerEvents: 'none',
        }}
      />
      <svg style={{ position: 'absolute', left: 0, top: 0 }} width={1920} height={20}>
        <polygon points="8,11.5 15,11.5 11.5,15.5" fill="#000" />
        <polygon points="1674,4 1684,4 1679,9" fill="#a8a8a8" />
      </svg>
      <div style={{ position: 'absolute', left: 20, top: 8, fontFamily: FONT, fontSize: 9.2, color: '#000', whiteSpace: 'pre' }}>
        {'USDTRY,Daily  36.64220 36.69190 36.63320 36.67396'}
      </div>
      <div style={{ position: 'absolute', left: 509, top: 691, width: 296, height: 141, background: '#90ee90' }}>
        {yearNotes.map((t, k) => (
          <div
            key={k}
            style={{
              position: 'absolute',
              left: k === 5 ? 15 : 17,
              top: [13, 35.7, 57.7, 78.3, 101.7, 124][k] - 9,
              lineHeight: '18px',
              fontFamily: FONT,
              fontSize: 14.4,
              color: '#000',
              whiteSpace: 'pre',
            }}
          >
            {t}
          </div>
        ))}
      </div>
    </div>
  );
}
